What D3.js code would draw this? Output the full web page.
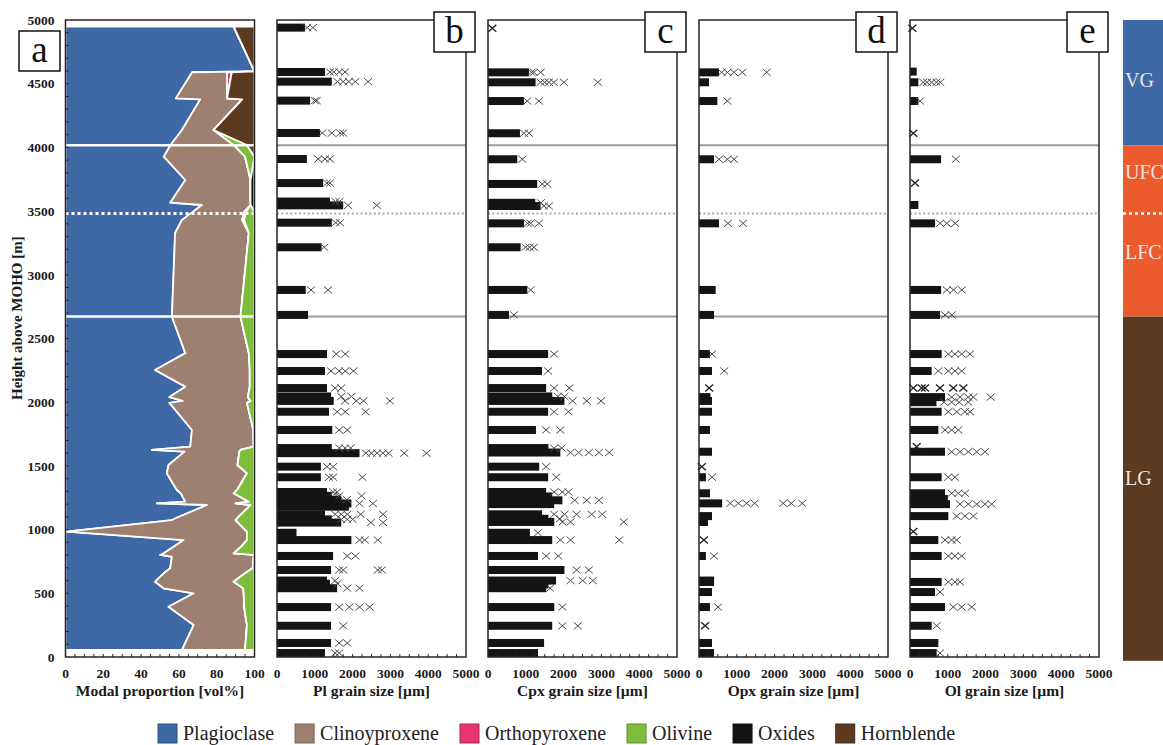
<!DOCTYPE html>
<html>
<head>
<meta charset="utf-8">
<script src="https://cdn.jsdelivr.net/npm/d3@7"></script>
<style>
  body { margin: 0; background: #fff; }
  svg { display: block; font-family: "Liberation Serif", "Times New Roman", Times, serif; }
</style>
</head>
<body>
<svg id="chart" width="1163" height="745"></svg>
<script>
// ---------------------------------------------------------------------------
// Modal mineralogy profile (vol%), sampled by height above the MOHO (m)
// ---------------------------------------------------------------------------
const minerals = ["Plagioclase", "Clinoyproxene", "Orthopyroxene", "Olivine", "Oxides", "Hornblende"];
const mineralColors = ["#3f68a6", "#9d806f", "#e6356f", "#7dbd3b", "#121212", "#5b3a1f"];

const modalHeights = [4948, 4596, 4590, 4385, 4377, 4137, 4019, 3927, 3744, 3566, 3548, 3490, 3430, 3328,
  2671, 2385, 2253, 2122, 2040, 2010, 1995, 1782, 1651, 1625, 1612, 1507, 1442, 1311, 1285, 1219, 1206,
  1193, 1101, 1075, 984, 918, 866, 814, 801, 787, 696, 657, 591, 539, 500, 395, 251, 55];
const plagioclase = [89, 100, 67, 58.4, 71.3, 61.6, 55.6, 52, 63.4, 55.4, 72.2, 67, 61.6, 58,
  56.3, 63.4, 47.4, 63.4, 55, 62, 55, 66.9, 66, 45.7, 63, 54.5, 53.6, 58.9, 61, 63.4, 48.3,
  74.9, 60, 56.3, 0.5, 62.5, 57.2, 52, 50.1, 56.3, 55.4, 52, 47.4, 51.9, 67.8, 54.5, 67.8, 61.6];
const clinopyroxene = [0, 0, 18.5, 27.1, 22.2, 16.8, 33.4, 43, 34.5, 42.5, 25.8, 27.3, 31.9, 39,
  36.3, 33.6, 50.1, 34.1, 41.5, 36, 41, 32.5, 33.5, 46.9, 29, 36.5, 42.4, 31.9, 28, 33.6, 41.7,
  23, 31.7, 33.7, 95.5, 33.5, 35.8, 37, 49.5, 43.3, 43.6, 43, 41.6, 42.1, 26.5, 40, 28.2, 33.4];
const orthopyroxene = [0, 0, 2.5, 0, 0, 0, 0, 0, 0, 0, 0, 1, 1, 0,
  0, 0, 0, 0, 0, 0, 0, 0, 0, 0, 0, 0, 0, 0, 0, 0, 0,
  0, 0, 0, 0, 0, 0, 0, 0, 0, 0, 0, 0, 0, 0, 0, 0, 0];
const olivine = [0, 0, 0, 0, 0, 0, 7, 5, 0, 0, 0, 4.7, 5.5, 3,
  7.4, 3, 2.5, 2.5, 3.5, 2, 4, 0.6, 0.5, 7.4, 8, 9, 4, 9.2, 11, 3, 10,
  2.1, 8.3, 10, 4, 4, 7, 11, 0.4, 0.4, 1, 5, 11, 6, 5.7, 5.5, 4, 5];
const oxides = [0, 0, 0, 0, 0, 0, 0, 0, 2.1, 2.1, 2, 0, 0, 0,
  0, 0, 0, 0, 0, 0, 0, 0, 0, 0, 0, 0, 0, 0, 0, 0, 0,
  0, 0, 0, 0, 0, 0, 0, 0, 0, 0, 0, 0, 0, 0, 0, 0, 0];
const hornblende = [11, 0, 12, 14.5, 6.5, 21.6, 4, 0, 0, 0, 0, 0, 0, 0,
  0, 0, 0, 0, 0, 0, 0, 0, 0, 0, 0, 0, 0, 0, 0, 0, 0,
  0, 0, 0, 0, 0, 0, 0, 0, 0, 0, 0, 0, 0, 0, 0, 0, 0];

// ---------------------------------------------------------------------------
// Grain sizes (µm) per sample: [height, end of the dense population, individual larger grains]
// ---------------------------------------------------------------------------
const plRows = [
  [4940, 740, [800, 950]], [4592, 1270, [1400, 1500, 1650, 1800]], [4516, 1450, [1600, 1750, 1900, 2070, 2410]],
  [4367, 875, [1000, 1050]], [4113, 1140, [1200, 1450, 1670, 1750]], [3909, 790, [1090, 1270, 1400]],
  [3720, 1220, [1320, 1400]], [3575, 1400, [1550, 1650]], [3545, 1750, [1880, 2640]], [3409, 1450, [1550, 1670]],
  [3216, 1180, [1250]], [2881, 760, [900, 1350]], [2685, 820, []],
  [2378, 1323, [1570, 1806]], [2245, 1269, [1430, 1645, 1806, 2022]], [2111, 1323, [1538, 1700]],
  [2045, 1430, [1700, 1968]], [2010, 1500, [1800, 2100, 2290, 2989]], [1925, 1376, [1591, 1806, 2344]],
  [1782, 1462, [1645, 1860]], [1640, 1450, [1650, 1800, 1950]],
  [1600, 2183, [2350, 2500, 2650, 2800, 2950, 3366, 3957]], [1494, 1161, [1323, 1484]],
  [1411, 1161, [1376, 1484, 2258]], [1295, 1323, [1484, 1591]], [1265, 1450, [1650, 2236]],
  [1235, 1700, [1850]], [1205, 1968, [2183, 2538]], [1180, 1900, []],
  [1120, 1269, [1538, 1700, 1860, 2215, 2806]], [1080, 1450, [1700, 1860, 2000]], [1055, 1699, [2484, 2806]],
  [975, 516, []], [918, 1968, [2183, 2323, 2667]], [793, 1484, [1860, 2075]],
  [683, 1430, [1645, 1753, 2667, 2774]], [600, 1323, [1538]], [575, 1400, [1600]], [540, 1591, [1860, 2183]],
  [392, 1430, [1645, 1914, 2183, 2452]], [245, 1430, [1753]], [110, 1430, [1645, 1860]], [31, 1269, [1538, 1645]]
];
const cpxRows = [
  [4935, 0, [114]], [4589, 1083, [1150, 1215, 1391]], [4511, 1259, [1391, 1500, 1611, 1743, 2007, 2905]],
  [4364, 951, [1039, 1347]], [4111, 845, [951, 1083]], [3907, 775, [907]], [3713, 1303, [1435, 1567]],
  [3565, 1250, [1400]], [3540, 1391, [1479, 1611]], [3404, 951, [1050, 1127, 1347]],
  [3216, 863, [995, 1100, 1215]], [2881, 1039, [1127]], [2685, 555, [687]],
  [2378, 1591, [1750]], [2245, 1430, [1590]], [2111, 1538, [1750, 2150]], [2045, 1700, [1850, 2022]],
  [2010, 2022, [2237, 2613, 2989]], [1925, 1591, [1750, 2129]], [1782, 1269, [1537, 1914]],
  [1640, 1600, [1750, 1950]], [1605, 1914, [2183, 2398, 2667, 2935, 3204]], [1494, 1355, [1538]],
  [1411, 1591, [1806]], [1295, 1538, [1750, 1968, 2129]], [1260, 1700, []], [1230, 1968, [2290, 2613, 2935]],
  [1200, 1750, []], [1120, 1430, [1750, 2022, 2344, 2742, 3022]], [1085, 1600, [1900]],
  [1060, 1753, [1968, 2183, 3591]], [975, 1108, [1323]], [918, 1699, [1914, 2183, 3473]],
  [793, 1323, [1538, 1860]], [683, 2022, [2344, 2667]], [600, 1800, [2183, 2505, 2774]], [570, 1600, []],
  [540, 1538, [1645]], [392, 1753, [1968]], [245, 1699, [1968, 2376]], [110, 1484, []], [31, 1323, []]
];
const opxRows = [
  [4589, 529, [600, 750, 926, 1146, 1790]], [4511, 265, []], [4364, 485, [750]], [3907, 397, [529, 750, 926]],
  [3404, 529, [767, 1164]], [2881, 441, []], [2685, 397, []],
  [2378, 290, [344]], [2245, 344, [667]], [2111, 0, [269]], [2040, 300, []], [2010, 344, []], [1925, 344, []],
  [1782, 290, []], [1611, 344, []], [1494, 0, [75]], [1411, 183, [344]], [1285, 290, []],
  [1206, 613, [828, 1043, 1258, 1473, 2226, 2441, 2731]], [1106, 344, []], [1060, 237, []], [918, 0, [129]],
  [793, 183, [398]], [600, 398, []], [589, 398, []], [510, 344, []], [392, 290, [505]], [245, 0, [161]],
  [110, 344, []], [31, 398, []]
];
const olRows = [
  [4935, 0, [62]], [4595, 177, []], [4511, 220, [350, 450, 575, 700, 800]], [4364, 221, [265]],
  [4111, 0, [88]], [3907, 823, [1212]], [3720, 0, [133]], [3548, 221, []], [3404, 664, [796, 973, 1195]],
  [2881, 823, [973, 1150, 1372]], [2685, 796, [929, 1106]],
  [2378, 838, [1014, 1190, 1367, 1587]], [2245, 573, [750, 1014, 1190, 1367]],
  [2111, 0, [88, 309, 397, 794, 1146, 1411]], [2040, 926, [1102, 1323, 1543, 1675, 2134]],
  [2000, 700, [900, 1100, 1300, 1543]], [1925, 838, [1014, 1235, 1455, 1587]], [1782, 750, [926, 1102, 1279]],
  [1650, 0, [176]], [1611, 926, [1102, 1323, 1543, 1764, 1984]], [1411, 838, [1014, 1190]],
  [1285, 926, [1102, 1279, 1455]], [1240, 1000, []], [1200, 1058, [1323, 1543, 1764, 1984, 2160]],
  [1106, 1014, [1235, 1455, 1675]], [985, 0, [88]], [918, 750, [926, 1102, 1235]],
  [793, 838, [1014, 1190, 1367]], [589, 838, [1014, 1190, 1323]], [510, 661, [794]],
  [392, 926, [1146, 1367, 1631]], [245, 573, [705]], [110, 750, []], [31, 705, [794]]
];

// ---------------------------------------------------------------------------
// Axis ticks, unit boundaries and stratigraphic units
// ---------------------------------------------------------------------------
const heightTicks = [0, 500, 1000, 1500, 2000, 2500, 3000, 3500, 4000, 4500, 5000];
const modalTicks = [0, 20, 40, 60, 80, 100];
const grainTicks = [0, 1000, 2000, 3000, 4000, 5000];
const unitBoundaries = [4017, 3482, 2672];           // solid, dotted, solid
const unitNames = ["VG", "UFC", "LFC", "LG"];
const unitLabelHeights = [4508, 3780, 3155, 1378];
const unitBlockLimits = [5000, 4017, 2672, -30];     // VG | UFC+LFC | LG
const unitColors = ["#3f68a6", "#ec5b2e", "#5b3a1f"];

// ---------------------------------------------------------------------------
const svg = d3.select("#chart");
const y = d3.scaleLinear().domain([0, 5000]).range([657, 20]);
const frameColor = "#262626";
const tickFont = "13.5px";
const titleFont = "15.5px";

function frame(g, x0, x1) {
  g.append("rect")
    .attr("x", x0).attr("y", y(5000))
    .attr("width", x1 - x0).attr("height", y(0) - y(5000))
    .attr("fill", "none").attr("stroke", frameColor).attr("stroke-width", 1.5);
}

function panelLetter(letter, bx, by) {
  svg.append("rect").attr("x", bx).attr("y", by).attr("width", 41).attr("height", 40)
    .attr("fill", "#fff").attr("stroke", "#111").attr("stroke-width", 1.5);
  svg.append("text").attr("x", bx + 20.5).attr("y", by + 31)
    .attr("text-anchor", "middle").attr("font-size", "37px").attr("fill", "#111").text(letter);
}

function bottomAxis(g, x, minorStep, ticks, title) {
  const [d0, d1] = x.domain();
  g.append("g").selectAll("line").data(d3.range(d0 + minorStep, d1, minorStep)).join("line")
    .attr("x1", d => x(d)).attr("x2", d => x(d))
    .attr("y1", y(0)).attr("y2", y(0) - 3)
    .attr("stroke", frameColor).attr("stroke-width", 1);
  g.append("g").selectAll("text").data(ticks).join("text")
    .attr("x", d => x(d)).attr("y", 677.5)
    .attr("text-anchor", "middle").attr("font-size", tickFont).attr("font-weight", "bold")
    .attr("fill", "#1a1a1a").text(d => d);
  g.append("text").attr("x", (x.range()[0] + x.range()[1]) / 2).attr("y", 696)
    .attr("text-anchor", "middle").attr("font-size", titleFont).attr("font-weight", "bold")
    .attr("fill", "#1a1a1a").text(title);
}

// ---------------------------- panel a --------------------------------------
const xa = d3.scaleLinear().domain([0, 100]).range([65.5, 254.5]);
const modalRows = modalHeights.map((h, i) => ({
  h,
  Plagioclase: plagioclase[i], Clinoyproxene: clinopyroxene[i], Orthopyroxene: orthopyroxene[i],
  Olivine: olivine[i], Oxides: oxides[i], Hornblende: hornblende[i]
}));
const series = d3.stack().keys(minerals)(modalRows);
const area = d3.area()
  .y(d => y(d.data.h))
  .x0(d => xa(d[0]))
  .x1(d => xa(d[1]));

const gA = svg.append("g");
gA.selectAll("path.layer").data(series).join("path")
  .attr("class", "layer")
  .attr("d", area)
  .attr("fill", (d, i) => mineralColors[i])
  .attr("stroke", "#fff").attr("stroke-width", 1.8).attr("stroke-linejoin", "round");

gA.selectAll("line.unit").data(unitBoundaries).join("line")
  .attr("class", "unit")
  .attr("x1", xa(0)).attr("x2", xa(100))
  .attr("y1", d => y(d)).attr("y2", d => y(d))
  .attr("stroke", "#fff").attr("stroke-width", (d, i) => i === 1 ? 3 : 2.5)
  .attr("stroke-dasharray", (d, i) => i === 1 ? "3,3" : null);

frame(gA, xa(0), xa(100));

// left axis: minor ticks every 100 m, labels every 500 m
gA.append("g").selectAll("line").data(d3.range(100, 5000, 100)).join("line")
  .attr("x1", xa(0)).attr("x2", xa(0) + 3)
  .attr("y1", d => y(d)).attr("y2", d => y(d))
  .attr("stroke", frameColor).attr("stroke-width", 1);
gA.append("g").selectAll("text").data(heightTicks).join("text")
  .attr("x", 54.5).attr("y", d => y(d)).attr("dy", "0.35em")
  .attr("text-anchor", "end").attr("font-size", tickFont).attr("font-weight", "bold")
  .attr("fill", "#1a1a1a").text(d => d);
svg.append("text")
  .attr("transform", `translate(22,${y(2660)}) rotate(-90)`)
  .attr("text-anchor", "middle").attr("font-size", "15px").attr("font-weight", "bold")
  .attr("fill", "#1a1a1a").text("Height above MOHO [m]");

bottomAxis(gA, xa, 5, modalTicks, "Modal proportion [vol%]");
panelLetter("a", 19, 31);

// ---------------------------- panels b–e -----------------------------------
const grainPanels = [
  { letter: "b", x0: 277, rows: plRows, title: "Pl grain size [µm]" },
  { letter: "c", x0: 488, rows: cpxRows, title: "Cpx grain size [µm]" },
  { letter: "d", x0: 699, rows: opxRows, title: "Opx grain size [µm]" },
  { letter: "e", x0: 910, rows: olRows, title: "Ol grain size [µm]" }
];
const crossPath = "M-4,-3.5L4,3.5M-4,3.5L4,-3.5";

grainPanels.forEach((p, k) => {
  const x = d3.scaleLinear().domain([0, 5000]).range([p.x0, p.x0 + 189]);
  const g = svg.append("g");
  const clipId = "clip-" + p.letter;
  g.append("clipPath").attr("id", clipId).append("rect")
    .attr("x", x(0) - 4).attr("y", y(5000)).attr("width", 193).attr("height", y(0) - y(5000));

  const plot = g.append("g").attr("clip-path", `url(#${clipId})`);
  plot.selectAll("line.unit").data(unitBoundaries).join("line")
    .attr("class", "unit")
    .attr("x1", x(0)).attr("x2", x(5000))
    .attr("y1", d => y(d)).attr("y2", d => y(d))
    .attr("stroke", (d, i) => i === 1 ? "#a8a8a8" : "#9c9c9c")
    .attr("stroke-width", 2)
    .attr("stroke-dasharray", (d, i) => i === 1 ? "2,2.4" : null);

  // dense populations as solid bands
  plot.selectAll("rect.dense").data(p.rows.filter(r => r[1] > 0)).join("rect")
    .attr("class", "dense")
    .attr("x", x(0)).attr("y", r => y(r[0]) - 4)
    .attr("width", r => x(r[1]) - x(0)).attr("height", 8)
    .attr("fill", "#141414");

  // individual grains as crosses
  const grains = p.rows.flatMap(r => r[2].map(v => ({ h: r[0], v, dark: r[1] === 0 })));
  plot.selectAll("path.grain").data(grains).join("path")
    .attr("class", "grain")
    .attr("d", crossPath)
    .attr("transform", d => `translate(${x(d.v)},${y(d.h)})`)
    .attr("fill", "none")
    .attr("stroke", d => d.dark ? "#222" : "#4a4a4a")
    .attr("stroke-width", d => d.dark ? 1.4 : 1);

  frame(g, x(0), x(5000));
  bottomAxis(g, x, 250, grainTicks, p.title);
  panelLetter(p.letter, x(5000) - 32, 12);
});

// ---------------------------- unit column ----------------------------------
const gU = svg.append("g");
unitColors.forEach((c, i) => {
  gU.append("rect")
    .attr("x", 1123).attr("y", y(unitBlockLimits[i]))
    .attr("width", 60).attr("height", y(unitBlockLimits[i + 1]) - y(unitBlockLimits[i]))
    .attr("fill", c);
});
gU.append("line")
  .attr("x1", 1123).attr("x2", 1163)
  .attr("y1", y(unitBoundaries[1])).attr("y2", y(unitBoundaries[1]))
  .attr("stroke", "#fff").attr("stroke-width", 2.5).attr("stroke-dasharray", "3,3");
gU.selectAll("text").data(unitNames).join("text")
  .attr("x", 1125).attr("y", (d, i) => y(unitLabelHeights[i]) + 4)
  .attr("font-size", "20px").attr("fill", "#ece6e0").text(d => d);

// ---------------------------- legend ---------------------------------------
const legend = svg.append("g");
let lx = 158;
minerals.forEach((m, i) => {
  legend.append("rect")
    .attr("x", lx).attr("y", 724).attr("width", 19).attr("height", 19)
    .attr("fill", mineralColors[i])
    .attr("stroke", d3.color(mineralColors[i]).darker(0.8)).attr("stroke-width", 1);
  const t = legend.append("text")
    .attr("x", lx + 25).attr("y", 740)
    .attr("font-size", "20px").attr("fill", "#222").text(m);
  lx += 25 + t.node().getComputedTextLength() + 21;
});
</script>
</body>
</html>
